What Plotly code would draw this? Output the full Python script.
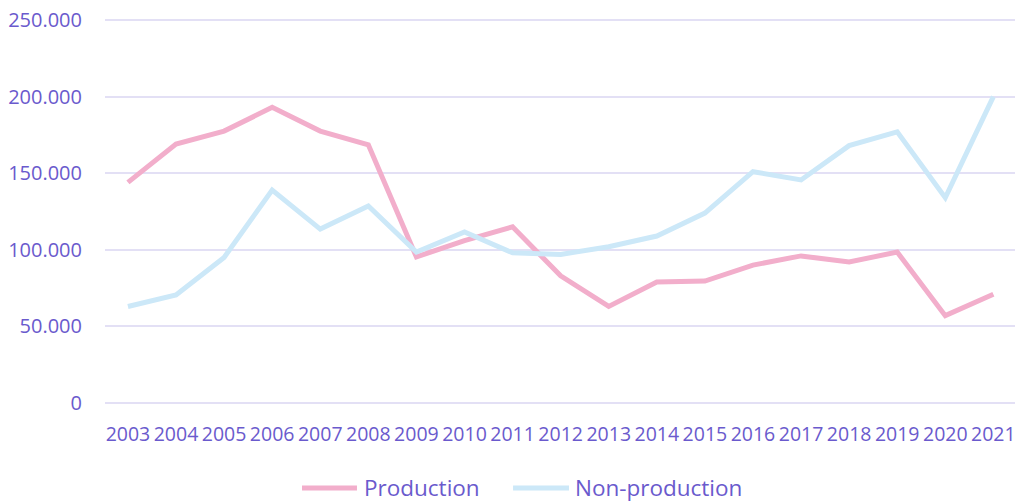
import plotly.graph_objects as go

years = [str(y) for y in range(2003, 2022)]
production = [144000, 169000, 177500, 193000, 177500, 168500, 95300, 106000, 115000, 83000,
              63000, 79000, 79600, 90000, 96000, 92000, 98500, 57000, 71000]
non_production = [63000, 70500, 95000, 139000, 113500, 128600, 98500, 111600, 98000, 97000,
                  102000, 109000, 124000, 151000, 145600, 168000, 177000, 134000, 200000]
y_ticks = [0, 50000, 100000, 150000, 200000, 250000]
y_tick_text = ["0", "50.000", "100.000", "150.000", "200.000", "250.000"]

series_names = ["Production", "Non-production"]
series_colors = ["#f2aecb", "#cce8f8"]
text_color = "#6a5acd"
font_family = "Open Sans"

fig = go.Figure()
for name, values, color in zip(series_names, [production, non_production], series_colors):
    fig.add_trace(go.Scatter(x=years, y=values, name=name, mode="lines",
                             line=dict(color=color, width=5), showlegend=False))

# Legend drawn below the plot: a short coloured bar followed by the series name
legend_items = [(0.2165, 0.2769, 0.2824), (0.4484, 0.5099, 0.5143)]
legend_y = -0.218
for (x0, x1, xt), name, color in zip(legend_items, series_names, series_colors):
    fig.add_shape(type="line", xref="paper", yref="paper", x0=x0, x1=x1,
                  y0=legend_y, y1=legend_y, line=dict(color=color, width=5))
    fig.add_annotation(xref="paper", yref="paper", x=xt, y=legend_y, text=name,
                       showarrow=False, xanchor="left", yanchor="middle",
                       font=dict(size=22.5, color=text_color, family=font_family))

fig.update_layout(
    width=1015, height=502,
    margin=dict(l=105, r=0, t=19, b=98),
    paper_bgcolor="white", plot_bgcolor="white",
    font=dict(family=font_family, color=text_color, size=20),
    showlegend=False,
)
fig.update_xaxes(type="category", range=[-0.477, 18.45], showgrid=False, zeroline=False,
                 showline=False, ticks="", tickfont=dict(size=19.5, color=text_color),
                 ticklabelstandoff=16, automargin=False)
fig.update_yaxes(range=[-700, 250700], tickvals=y_ticks, ticktext=y_tick_text,
                 showgrid=True, gridcolor="#e3e0f5", gridwidth=2, zeroline=False,
                 showline=False, ticks="", tickfont=dict(size=20, color=text_color),
                 ticklabelstandoff=22, automargin=False)

fig.write_html("out.html")
